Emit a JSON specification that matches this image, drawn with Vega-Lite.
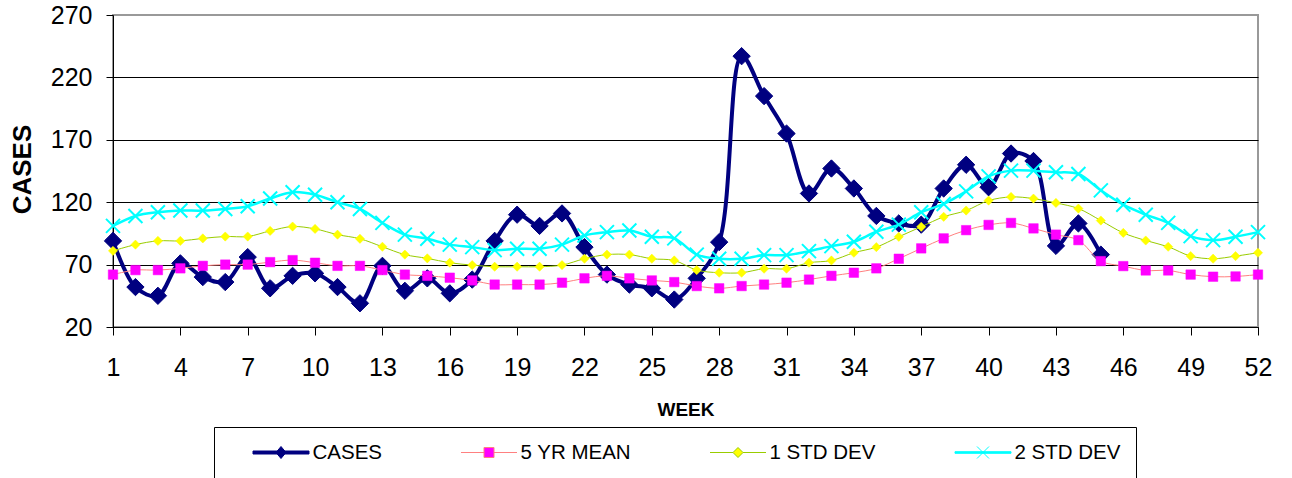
{
  "$schema": "https://vega.github.io/schema/vega-lite/v6.json",
  "width": 1145,
  "height": 312,
  "autosize": "none",
  "padding": {"left": 113, "top": 15, "right": 34, "bottom": 151},
  "background": "white",
  "config": {"font": "Liberation Sans", "view": {"stroke": "#999999", "strokeWidth": 2}},
  "data": {"values": [
    {"week":1,"series":"CASES","value":89},{"week":2,"series":"CASES","value":52},{"week":3,"series":"CASES","value":45},{"week":4,"series":"CASES","value":71},{"week":5,"series":"CASES","value":60},{"week":6,"series":"CASES","value":56},{"week":7,"series":"CASES","value":76},{"week":8,"series":"CASES","value":51},{"week":9,"series":"CASES","value":61},{"week":10,"series":"CASES","value":63},{"week":11,"series":"CASES","value":52},{"week":12,"series":"CASES","value":39},{"week":13,"series":"CASES","value":69},{"week":14,"series":"CASES","value":49},{"week":15,"series":"CASES","value":59},{"week":16,"series":"CASES","value":47},{"week":17,"series":"CASES","value":58},{"week":18,"series":"CASES","value":89},{"week":19,"series":"CASES","value":110},{"week":20,"series":"CASES","value":101},{"week":21,"series":"CASES","value":111},{"week":22,"series":"CASES","value":84},{"week":23,"series":"CASES","value":62},{"week":24,"series":"CASES","value":54},{"week":25,"series":"CASES","value":51},{"week":26,"series":"CASES","value":42},{"week":27,"series":"CASES","value":59},{"week":28,"series":"CASES","value":88},{"week":29,"series":"CASES","value":237},{"week":30,"series":"CASES","value":205},{"week":31,"series":"CASES","value":175},{"week":32,"series":"CASES","value":127},{"week":33,"series":"CASES","value":147},{"week":34,"series":"CASES","value":131},{"week":35,"series":"CASES","value":109},{"week":36,"series":"CASES","value":103},{"week":37,"series":"CASES","value":102},{"week":38,"series":"CASES","value":131},{"week":39,"series":"CASES","value":150},{"week":40,"series":"CASES","value":132},{"week":41,"series":"CASES","value":159},{"week":42,"series":"CASES","value":153},{"week":43,"series":"CASES","value":85},{"week":44,"series":"CASES","value":103},{"week":45,"series":"CASES","value":78},
    {"week":1,"series":"5 YR MEAN","value":62},{"week":2,"series":"5 YR MEAN","value":65.6},{"week":3,"series":"5 YR MEAN","value":65.6},{"week":4,"series":"5 YR MEAN","value":67},{"week":5,"series":"5 YR MEAN","value":69},{"week":6,"series":"5 YR MEAN","value":70},{"week":7,"series":"5 YR MEAN","value":70},{"week":8,"series":"5 YR MEAN","value":72},{"week":9,"series":"5 YR MEAN","value":73.6},{"week":10,"series":"5 YR MEAN","value":71.5},{"week":11,"series":"5 YR MEAN","value":69},{"week":12,"series":"5 YR MEAN","value":69},{"week":13,"series":"5 YR MEAN","value":65.6},{"week":14,"series":"5 YR MEAN","value":62},{"week":15,"series":"5 YR MEAN","value":61},{"week":16,"series":"5 YR MEAN","value":59.5},{"week":17,"series":"5 YR MEAN","value":57.3},{"week":18,"series":"5 YR MEAN","value":54},{"week":19,"series":"5 YR MEAN","value":54},{"week":20,"series":"5 YR MEAN","value":54},{"week":21,"series":"5 YR MEAN","value":55.5},{"week":22,"series":"5 YR MEAN","value":59},{"week":23,"series":"5 YR MEAN","value":61},{"week":24,"series":"5 YR MEAN","value":59},{"week":25,"series":"5 YR MEAN","value":57.3},{"week":26,"series":"5 YR MEAN","value":56},{"week":27,"series":"5 YR MEAN","value":52.8},{"week":28,"series":"5 YR MEAN","value":51},{"week":29,"series":"5 YR MEAN","value":52.8},{"week":30,"series":"5 YR MEAN","value":54},{"week":31,"series":"5 YR MEAN","value":55.5},{"week":32,"series":"5 YR MEAN","value":58},{"week":33,"series":"5 YR MEAN","value":61},{"week":34,"series":"5 YR MEAN","value":63.5},{"week":35,"series":"5 YR MEAN","value":67},{"week":36,"series":"5 YR MEAN","value":74.7},{"week":37,"series":"5 YR MEAN","value":83},{"week":38,"series":"5 YR MEAN","value":91},{"week":39,"series":"5 YR MEAN","value":97.6},{"week":40,"series":"5 YR MEAN","value":101.8},{"week":41,"series":"5 YR MEAN","value":103.4},{"week":42,"series":"5 YR MEAN","value":99},{"week":43,"series":"5 YR MEAN","value":94},{"week":44,"series":"5 YR MEAN","value":89.6},{"week":45,"series":"5 YR MEAN","value":72.8},{"week":46,"series":"5 YR MEAN","value":68.8},{"week":47,"series":"5 YR MEAN","value":65.3},{"week":48,"series":"5 YR MEAN","value":65.3},{"week":49,"series":"5 YR MEAN","value":62},{"week":50,"series":"5 YR MEAN","value":60.3},{"week":51,"series":"5 YR MEAN","value":60.5},{"week":52,"series":"5 YR MEAN","value":62},
    {"week":1,"series":"1 STD DEV","value":81},{"week":2,"series":"1 STD DEV","value":86},{"week":3,"series":"1 STD DEV","value":89},{"week":4,"series":"1 STD DEV","value":89},{"week":5,"series":"1 STD DEV","value":91},{"week":6,"series":"1 STD DEV","value":92.5},{"week":7,"series":"1 STD DEV","value":92.5},{"week":8,"series":"1 STD DEV","value":97},{"week":9,"series":"1 STD DEV","value":100.5},{"week":10,"series":"1 STD DEV","value":98.6},{"week":11,"series":"1 STD DEV","value":94},{"week":12,"series":"1 STD DEV","value":90.7},{"week":13,"series":"1 STD DEV","value":84.3},{"week":14,"series":"1 STD DEV","value":78},{"week":15,"series":"1 STD DEV","value":75},{"week":16,"series":"1 STD DEV","value":71.5},{"week":17,"series":"1 STD DEV","value":69.6},{"week":18,"series":"1 STD DEV","value":68.3},{"week":19,"series":"1 STD DEV","value":68.3},{"week":20,"series":"1 STD DEV","value":68.3},{"week":21,"series":"1 STD DEV","value":69.6},{"week":22,"series":"1 STD DEV","value":74.7},{"week":23,"series":"1 STD DEV","value":78},{"week":24,"series":"1 STD DEV","value":78},{"week":25,"series":"1 STD DEV","value":74.7},{"week":26,"series":"1 STD DEV","value":73.3},{"week":27,"series":"1 STD DEV","value":65.6},{"week":28,"series":"1 STD DEV","value":63.5},{"week":29,"series":"1 STD DEV","value":63.5},{"week":30,"series":"1 STD DEV","value":66.7},{"week":31,"series":"1 STD DEV","value":66.7},{"week":32,"series":"1 STD DEV","value":71.5},{"week":33,"series":"1 STD DEV","value":73.3},{"week":34,"series":"1 STD DEV","value":79.5},{"week":35,"series":"1 STD DEV","value":84},{"week":36,"series":"1 STD DEV","value":92.3},{"week":37,"series":"1 STD DEV","value":100.3},{"week":38,"series":"1 STD DEV","value":108.3},{"week":39,"series":"1 STD DEV","value":113.3},{"week":40,"series":"1 STD DEV","value":121.3},{"week":41,"series":"1 STD DEV","value":124.2},{"week":42,"series":"1 STD DEV","value":122.9},{"week":43,"series":"1 STD DEV","value":119.4},{"week":44,"series":"1 STD DEV","value":114.9},{"week":45,"series":"1 STD DEV","value":105.3},{"week":46,"series":"1 STD DEV","value":95.4},{"week":47,"series":"1 STD DEV","value":89.3},{"week":48,"series":"1 STD DEV","value":84.3},{"week":49,"series":"1 STD DEV","value":76.8},{"week":50,"series":"1 STD DEV","value":74.7},{"week":51,"series":"1 STD DEV","value":76.8},{"week":52,"series":"1 STD DEV","value":79.5},
    {"week":1,"series":"2 STD DEV","value":101},{"week":2,"series":"2 STD DEV","value":109},{"week":3,"series":"2 STD DEV","value":112},{"week":4,"series":"2 STD DEV","value":113.3},{"week":5,"series":"2 STD DEV","value":113.3},{"week":6,"series":"2 STD DEV","value":114.6},{"week":7,"series":"2 STD DEV","value":116.8},{"week":8,"series":"2 STD DEV","value":123},{"week":9,"series":"2 STD DEV","value":128},{"week":10,"series":"2 STD DEV","value":126},{"week":11,"series":"2 STD DEV","value":120},{"week":12,"series":"2 STD DEV","value":114.6},{"week":13,"series":"2 STD DEV","value":103.4},{"week":14,"series":"2 STD DEV","value":94},{"week":15,"series":"2 STD DEV","value":90.7},{"week":16,"series":"2 STD DEV","value":86},{"week":17,"series":"2 STD DEV","value":84},{"week":18,"series":"2 STD DEV","value":81.6},{"week":19,"series":"2 STD DEV","value":82.7},{"week":20,"series":"2 STD DEV","value":82.7},{"week":21,"series":"2 STD DEV","value":86},{"week":22,"series":"2 STD DEV","value":93.3},{"week":23,"series":"2 STD DEV","value":96},{"week":24,"series":"2 STD DEV","value":97.3},{"week":25,"series":"2 STD DEV","value":92.3},{"week":26,"series":"2 STD DEV","value":91},{"week":27,"series":"2 STD DEV","value":78},{"week":28,"series":"2 STD DEV","value":74.7},{"week":29,"series":"2 STD DEV","value":74.7},{"week":30,"series":"2 STD DEV","value":77.6},{"week":31,"series":"2 STD DEV","value":77.6},{"week":32,"series":"2 STD DEV","value":80.8},{"week":33,"series":"2 STD DEV","value":84.8},{"week":34,"series":"2 STD DEV","value":88.3},{"week":35,"series":"2 STD DEV","value":96.3},{"week":36,"series":"2 STD DEV","value":102},{"week":37,"series":"2 STD DEV","value":112},{"week":38,"series":"2 STD DEV","value":118.6},{"week":39,"series":"2 STD DEV","value":128.7},{"week":40,"series":"2 STD DEV","value":140.7},{"week":41,"series":"2 STD DEV","value":145.3},{"week":42,"series":"2 STD DEV","value":145.3},{"week":43,"series":"2 STD DEV","value":144},{"week":44,"series":"2 STD DEV","value":142.6},{"week":45,"series":"2 STD DEV","value":129.5},{"week":46,"series":"2 STD DEV","value":118},{"week":47,"series":"2 STD DEV","value":110},{"week":48,"series":"2 STD DEV","value":103.4},{"week":49,"series":"2 STD DEV","value":92.8},{"week":50,"series":"2 STD DEV","value":89.6},{"week":51,"series":"2 STD DEV","value":92.3},{"week":52,"series":"2 STD DEV","value":96}
  ]},
  "encoding": {
    "x": {"field": "week", "type": "quantitative",
      "scale": {"domain": [1, 52], "nice": false, "zero": false},
      "axis": {"values": [1,4,7,10,13,16,19,22,25,28,31,34,37,40,43,46,49,52],
        "title": "WEEK", "titleFontSize": 19, "titleFontWeight": "bold", "titleColor": "black",
        "titleY": 82, "titleBaseline": "middle",
        "labelFontSize": 25, "labelColor": "black", "labelPadding": 20, "labelFlush": false, "labelOverlap": false,
        "tickSize": 8, "tickColor": "black", "domainColor": "black", "grid": false}},
    "y": {"field": "value", "type": "quantitative",
      "scale": {"domain": [20, 270], "nice": false, "zero": false},
      "axis": {"values": [20,70,120,170,220,270],
        "title": "CASES", "titleFontSize": 26, "titleFontWeight": "bold", "titleColor": "black",
        "titleX": -91, "titleY": 154, "titleAlign": "center", "titleBaseline": "middle", "titleAngle": -90,
        "labelFontSize": 25, "labelColor": "black", "labelPadding": 14,
        "tickSize": 7, "tickColor": "black", "domainColor": "black",
        "grid": true, "gridColor": {"condition": {"test": "datum.value === 270", "value": "#999999"}, "value": "black"}}}
  },
  "layer": [
    {"transform": [{"filter": "datum.series === 'CASES'"}],
     "mark": {"type": "line", "interpolate": "catmull-rom", "strokeWidth": 4},
     "encoding": {"color": {"field": "series", "type": "nominal",
       "scale": {"domain": ["CASES", "5 YR MEAN", "1 STD DEV", "2 STD DEV"], "range": ["#000080", "#FF8080", "#99CC00", "#00FFFF"]},
       "legend": {"orient": "none", "legendX": 101, "legendY": 412, "direction": "horizontal", "columns": 4,
         "title": "\u00a0", "titleOrient": "left", "titleFontSize": 20, "titlePadding": 24,
         "strokeColor": "black", "fillColor": "white", "padding": 15, "columnPadding": 77,
         "labelFontSize": 20.5, "labelColor": "black", "labelFont": "Liberation Sans", "labelOffset": 21, "symbolOffset": 17.5,
         "symbolSize": 400, "symbolStrokeWidth": 1,
         "encode": {"symbols": {"update": {
           "shape": {"signal": "datum.value === 'CASES' ? 'M-2.8,-0.15L2.8,-0.15L2.8,0.15L-2.8,0.15ZM0,-0.6L0.5,0L0,0.6L-0.5,0Z' : datum.value === '5 YR MEAN' ? 'M-2.8,0L-0.5,0M0.5,0L2.8,0M-0.5,-0.5L0.5,-0.5L0.5,0.5L-0.5,0.5Z' : datum.value === '1 STD DEV' ? 'M-2.8,0L-0.5,0M0.5,0L2.8,0M0,-0.5L0.5,0L0,0.5L-0.5,0Z' : 'M-2.8,-0.08L2.8,-0.08L2.8,0.08L-2.8,0.08ZM-0.6,-0.6L0.6,0.6M-0.6,0.6L0.6,-0.6'"},
           "fill": {"signal": "datum.value === 'CASES' ? '#000080' : datum.value === '5 YR MEAN' ? '#FF00FF' : datum.value === '1 STD DEV' ? '#FFFF00' : '#00FFFF'"},
           "stroke": {"signal": "datum.value === 'CASES' ? '#000080' : datum.value === '5 YR MEAN' ? '#FF8080' : datum.value === '1 STD DEV' ? '#99CC00' : '#00FFFF'"},
           "opacity": {"value": 1}
         }}}}}}},
    {"transform": [{"filter": "datum.series === 'CASES'"}],
     "mark": {"type": "point", "shape": "diamond", "filled": true, "fill": "#000080", "stroke": "#000080", "strokeWidth": 1, "size": 300, "opacity": 1}},
    {"transform": [{"filter": "datum.series === '5 YR MEAN'"}],
     "mark": {"type": "line", "interpolate": "catmull-rom", "strokeWidth": 1},
     "encoding": {"color": {"field": "series", "type": "nominal"}}},
    {"transform": [{"filter": "datum.series === '5 YR MEAN'"}],
     "mark": {"type": "point", "shape": "square", "filled": true, "fill": "#FF00FF", "stroke": "#FF00FF", "strokeWidth": 0.5, "size": 90, "opacity": 1}},
    {"transform": [{"filter": "datum.series === '1 STD DEV'"}],
     "mark": {"type": "line", "interpolate": "catmull-rom", "strokeWidth": 1},
     "encoding": {"color": {"field": "series", "type": "nominal"}}},
    {"transform": [{"filter": "datum.series === '1 STD DEV'"}],
     "mark": {"type": "point", "shape": "diamond", "filled": true, "fill": "#FFFF00", "stroke": "#FFFF00", "strokeWidth": 0.5, "size": 85, "opacity": 1}},
    {"transform": [{"filter": "datum.series === '2 STD DEV'"}],
     "mark": {"type": "line", "interpolate": "catmull-rom", "strokeWidth": 2.5},
     "encoding": {"color": {"field": "series", "type": "nominal"}}},
    {"transform": [{"filter": "datum.series === '2 STD DEV'"}],
     "mark": {"type": "point", "shape": "M-1,-1L1,1M-1,1L1,-1", "filled": false, "stroke": "#00FFFF", "strokeWidth": 2, "size": 196, "opacity": 1}}
  ]
}
